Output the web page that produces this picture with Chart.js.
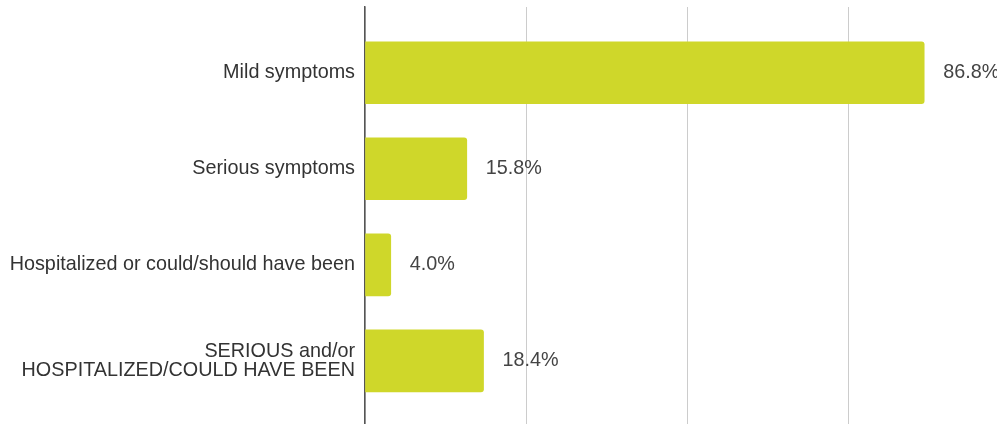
<!DOCTYPE html>
<html>
<head>
<meta charset="utf-8">
<script src="https://cdn.jsdelivr.net/npm/chart.js@4/dist/chart.umd.min.js"></script>
<style>
  html, body { margin: 0; padding: 0; background: #fff; overflow: hidden; }
  #wrap { width: 997px; height: 424px; position: relative; }
</style>
</head>
<body>
<div id="wrap"><canvas id="myChart"></canvas></div>
<script>
// data
let categories = [
  'Mild symptoms',
  'Serious symptoms',
  'Hospitalized or could/should have been',
  ['SERIOUS and/or', 'HOSPITALIZED/COULD HAVE BEEN']
];
let percents = [86.8, 15.8, 4.0, 18.4];
let gridSteps = [0, 25, 50, 75];

let barColor = '#cfd72a';
let fontFamily = 'Arial, "Liberation Sans", sans-serif';

// bar value labels drawn next to each bar
let valueLabels = {
  id: 'valueLabels',
  afterDatasetsDraw(chart) {
    let ctx = chart.ctx;
    let meta = chart.getDatasetMeta(0);
    ctx.save();
    ctx.font = '19.8px ' + fontFamily;
    ctx.fillStyle = '#444';
    ctx.textBaseline = 'middle';
    ctx.textAlign = 'left';
    meta.data.forEach(function (bar, i) {
      ctx.fillText(percents[i].toFixed(1) + '%', bar.x + 19, bar.y);
    });
    ctx.restore();
  }
};

let points = percents.map(function (v, i) {
  return { x: v, y: i };
});

const config = {
  type: 'bar',
  data: {
    datasets: [{
      data: points,
      backgroundColor: barColor,
      borderWidth: 0,
      borderRadius: 3,
      barThickness: 62
    }]
  },
  options: {
    indexAxis: 'y',
    responsive: true,
    maintainAspectRatio: false,
    animation: false,
    layout: { padding: { top: 7, left: 0, right: 0, bottom: 0 } },
    plugins: {
      legend: { display: false },
      tooltip: { enabled: false }
    },
    scales: {
      x: {
        type: 'linear',
        min: 0,
        max: 98.1,
        ticks: { display: false, stepSize: 25, includeBounds: false },
        afterBuildTicks: function (s) {
          s.ticks = gridSteps.map(function (v) { return { value: v }; });
        },
        afterFit: function (s) {
          s.height = 0;
          s.paddingLeft = 0;
          s.paddingRight = 0;
        },
        grid: { color: '#cccccc', drawTicks: false, lineWidth: 1 },
        border: { display: false }
      },
      y: {
        type: 'linear',
        reverse: true,
        offset: false,
        min: -0.685,
        max: 3.658,
        afterBuildTicks: function (s) {
          s.ticks = categories.map(function (c, i) { return { value: i }; });
        },
        afterFit: function (s) {
          s.width = 365;
          s.paddingTop = 0;
          s.paddingBottom = 0;
        },
        ticks: {
          padding: 10,
          color: '#333',
          font: { family: fontFamily, size: 19.8, lineHeight: 0.95 },
          callback: function (v) { return categories[v]; }
        },
        grid: { display: false, drawTicks: false, offset: false },
        border: { display: true, color: '#555', width: 1.5 }
      }
    }
  },
  plugins: [valueLabels]
};

const myChart = new Chart(document.getElementById('myChart'), config);
</script>
</body>
</html>
